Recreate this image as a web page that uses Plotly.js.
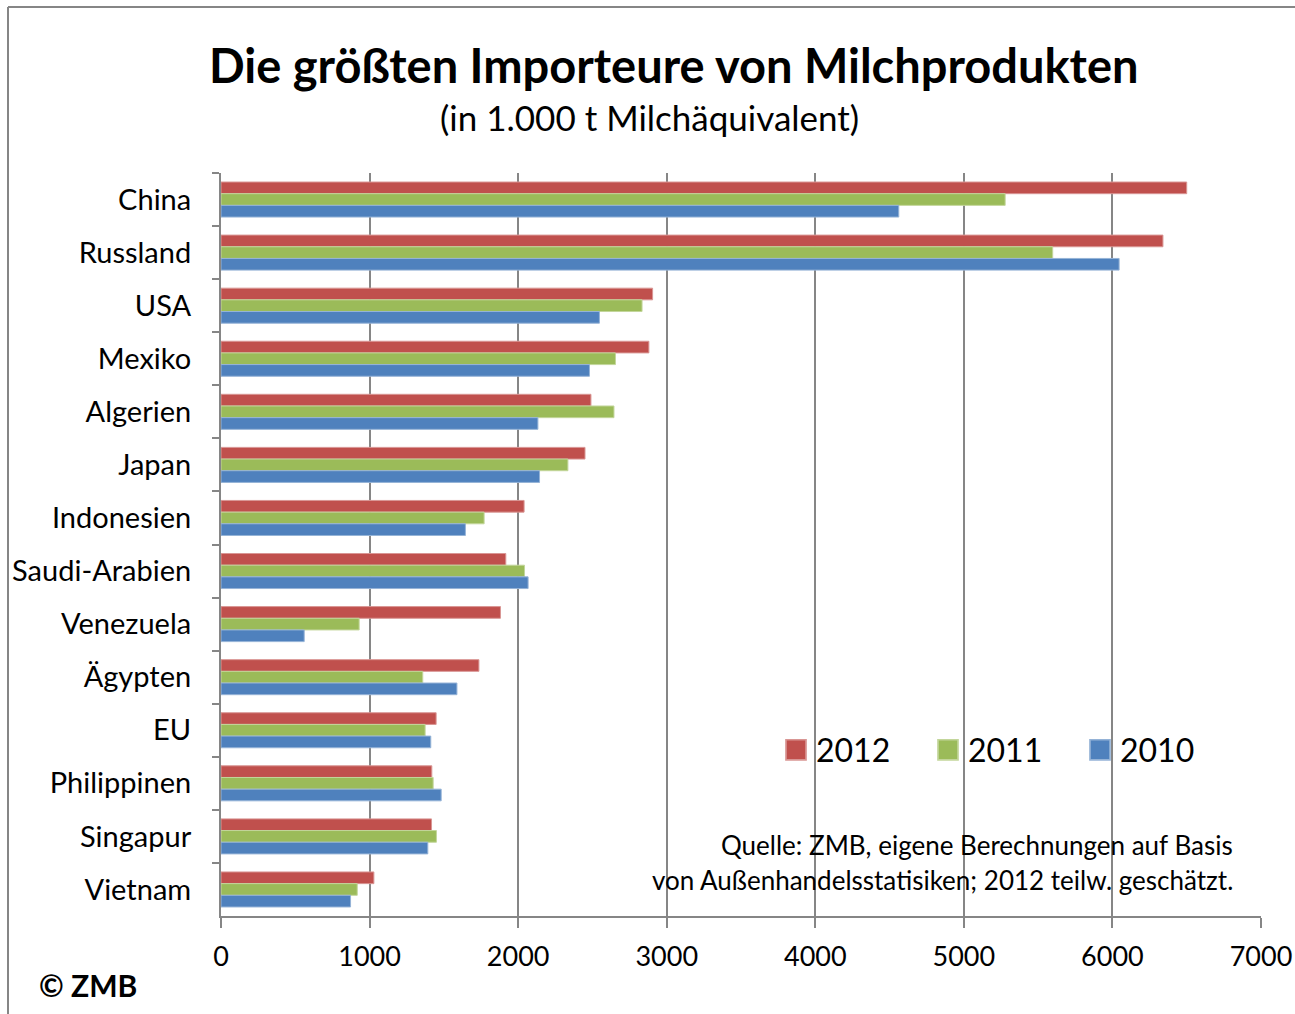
<!DOCTYPE html>
<html>
<head>
<meta charset="utf-8">
<script src="https://cdn.plot.ly/plotly-3.0.1.min.js"></script>
<style>html,body{margin:0;padding:0;background:#fff;}#chart{width:1295px;height:1014px;}</style>
</head>
<body>
<div id="chart"></div>
<script>
const categories = ['China','Russland','USA','Mexiko','Algerien','Japan','Indonesien','Saudi-Arabien','Venezuela','Ägypten','EU','Philippinen','Singapur','Vietnam'];
const years = ['2012','2011','2010'];
const v2012 = [6500,6340,2905,2880,2490,2450,2040,1917,1881,1736,1448,1419,1417,1029];
const v2011 = [5278,5598,2834,2655,2645,2335,1771,2043,930,1358,1374,1428,1450,917];
const v2010 = [4562,6045,2547,2480,2133,2144,1645,2067,560,1588,1412,1482,1392,872];
const xTicks = [0,1000,2000,3000,4000,5000,6000,7000];

const colors = ['#C0504D','#9BBB59','#4F81BD'];
const lineColors = ['#D99694','#C3D69B','#95B3D7'];
const series = [v2012, v2011, v2010];

const FONT = 'Lato, "Open Sans", sans-serif';

const traces = series.map((vals, i) => ({
  type: 'bar',
  orientation: 'h',
  name: years[i],
  y: categories,
  x: vals,
  marker: {color: colors[i], line: {color: lineColors[i], width: 1}},
  hoverinfo: 'x+y+name'
}));

// plot-area pixel geometry
const L = 221, R = 1261, T = 173, B = 916;
const W = 1295, H = 1014;
const px = x => (x - L) / (R - L);
const py = y => (B - y) / (B - T);

const layout = {
  width: W, height: H,
  margin: {l: L, r: W - R, t: T, b: H - B, pad: 0, autoexpand: false},
  paper_bgcolor: '#fff', plot_bgcolor: '#fff',
  font: {family: FONT, color: '#000'},
  barmode: 'group',
  bargap: 0.34,
  bargroupgap: 0,
  showlegend: true,
  legend: {
    orientation: 'h',
    x: px(776), y: py(750), xanchor: 'left', yanchor: 'middle',
    font: {family: FONT, size: 32, color: '#000'},
    bgcolor: 'rgba(0,0,0,0)',
    entrywidth: 107, entrywidthmode: 'pixels',
    traceorder: 'normal'
  },
  xaxis: {
    range: [0, 7000],
    tickvals: xTicks,
    ticktext: xTicks.map(String),
    showgrid: true, gridcolor: '#868686', gridwidth: 2,
    zeroline: false,
    showline: true, linecolor: '#868686', linewidth: 2,
    ticks: 'outside', ticklen: 10, tickcolor: '#868686', tickwidth: 2,
    ticklabelstandoff: 6,
    tickfont: {family: FONT, size: 27, color: '#000'},
    fixedrange: true
  },
  yaxis: {
    type: 'category',
    autorange: 'reversed',
    showgrid: false, zeroline: false,
    showline: true, linecolor: '#868686', linewidth: 2,
    ticks: 'outside', ticklen: 7, tickcolor: '#868686', tickwidth: 2,
    tickson: 'boundaries',
    ticklabelstandoff: 22,
    tickfont: {family: FONT, size: 29, color: '#000'},
    fixedrange: true
  },
  annotations: [
    {text: '<b>Die größten Importeure von Milchprodukten</b>', xref: 'paper', yref: 'paper',
     x: px(674), y: py(65), xanchor: 'center', yanchor: 'middle', showarrow: false,
     font: {family: FONT, size: 47, color: '#000'}},
    {text: '(in 1.000 t Milchäquivalent)', xref: 'paper', yref: 'paper',
     x: px(649), y: py(117), xanchor: 'center', yanchor: 'middle', showarrow: false,
     font: {family: FONT, size: 35, color: '#000'}},
    {text: 'Quelle: ZMB, eigene Berechnungen auf Basis', xref: 'paper', yref: 'paper',
     x: px(1235), y: py(845), xanchor: 'right', yanchor: 'middle', showarrow: false,
     font: {family: FONT, size: 26, color: '#000'}},
    {text: 'von Außenhandelsstatisiken; 2012 teilw. geschätzt.', xref: 'paper', yref: 'paper',
     x: px(1235), y: py(880), xanchor: 'right', yanchor: 'middle', showarrow: false,
     font: {family: FONT, size: 26, color: '#000'}},
    {text: '<b>© ZMB</b>', xref: 'paper', yref: 'paper',
     x: px(37), y: py(985), xanchor: 'left', yanchor: 'middle', showarrow: false,
     font: {family: FONT, size: 30, color: '#000'}}
  ],
  shapes: [
    {type: 'line', xref: 'paper', yref: 'paper', x0: px(8), x1: px(1295), y0: py(7), y1: py(7),
     line: {color: '#868686', width: 2}},
    {type: 'line', xref: 'paper', yref: 'paper', x0: px(8), x1: px(8), y0: py(7), y1: py(1014),
     line: {color: '#868686', width: 2}}
  ]
};

Plotly.newPlot('chart', traces, layout, {displayModeBar: false, staticPlot: true}).then(gd => {
  // enlarge the legend swatches to match the reference's square keys
  gd.querySelectorAll('.legend .legendpoints path').forEach(p => {
    const t = p.getAttribute('transform') || '';
    p.setAttribute('transform', t + ' scale(1.67)');
  });
});
</script>
</body>
</html>
